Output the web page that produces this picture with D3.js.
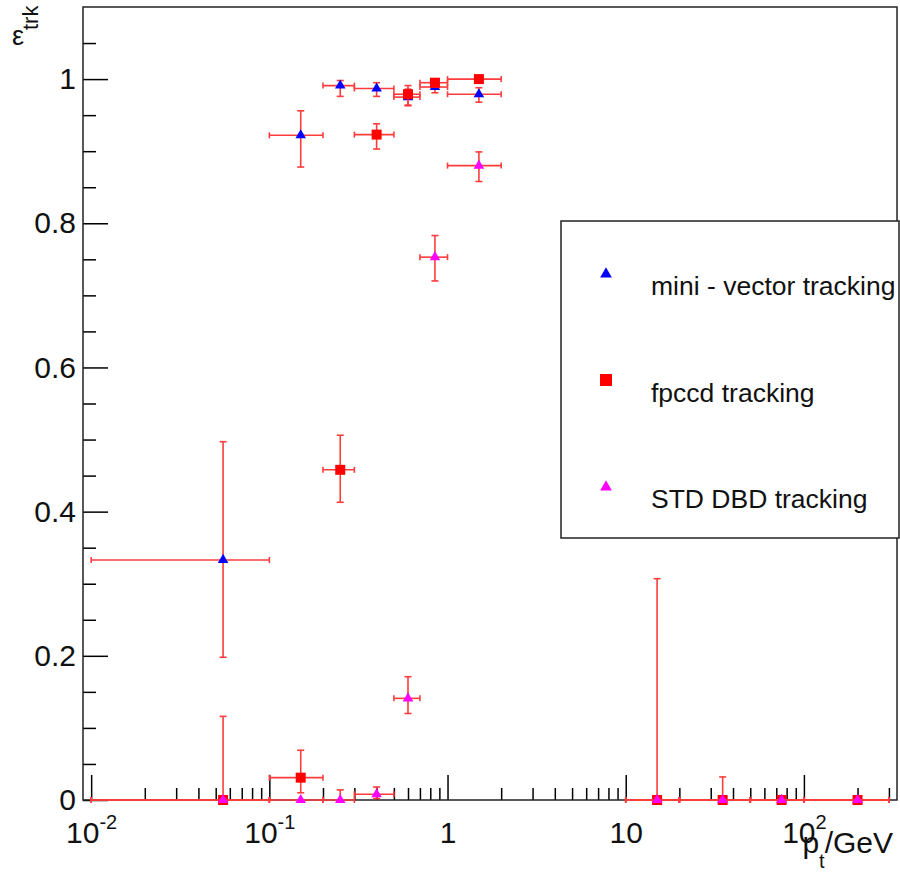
<!DOCTYPE html>
<html>
<head>
<meta charset="utf-8">
<script src="https://cdn.jsdelivr.net/npm/d3@7"></script>
<style>
  body { margin: 0; background: #fff; }
  svg { display: block; }
  text { font-family: "Liberation Sans", Arial, sans-serif; fill: #111; }
</style>
</head>
<body>
<svg id="chart" width="900" height="873"></svg>
<script>
// pt bins (GeV)
const binCenter = [0.055, 0.15, 0.25, 0.4, 0.6, 0.85, 1.5, 15, 35, 75, 200]
const binLow = [0.01, 0.1, 0.2, 0.3, 0.5, 0.7, 1, 10, 20, 50, 100]
const binHigh = [0.1, 0.2, 0.3, 0.5, 0.7, 1, 2, 20, 50, 100, 300]

// mini - vector tracking
const miniEff = [0.333, 0.922, 0.991, 0.987, 0.975, 0.989, 0.979, 0, 0, 0, 0]
const miniErrLow = [0.135, 0.044, 0.015, 0.011, 0.012, 0.008, 0.011, 0, 0, 0, 0]
const miniErrHigh = [0.164, 0.034, 0.007, 0.008, 0.011, 0.006, 0.009, 0, 0, 0, 0]

// fpccd tracking
const fpccdEff = [0, 0.031, 0.458, 0.923, 0.979, 0.995, 1.0, 0, 0, 0, 0]
const fpccdErrLow = [0, 0.021, 0.045, 0.02, 0.015, 0.006, 0.004, 0, 0, 0, 0]
const fpccdErrHigh = [0.116, 0.038, 0.048, 0.015, 0.012, 0.004, 0, 0.307, 0.032, 0, 0]

// STD DBD tracking
const stdEff = [0, 0, 0, 0.008, 0.141, 0.753, 0.88, 0, 0, 0, 0]
const stdErrLow = [0, 0, 0, 0.006, 0.021, 0.033, 0.022, 0, 0, 0, 0]
const stdErrHigh = [0, 0, 0.014, 0.01, 0.03, 0.03, 0.019, 0, 0, 0, 0]

const yMajor = [0, 0.2, 0.4, 0.6, 0.8, 1]
const xMajor = [0.01, 0.1, 1, 10, 100]
const xTickLabels = [['10', '-2'], ['10', '-1'], ['1', ''], ['10', ''], ['10', '2']]

const series = [
  { name: 'mini - vector tracking', color: '#0000ff', symbol: d3.symbolTriangle, size: 48,
    val: miniEff, lo: miniErrLow, hi: miniErrHigh },
  { name: 'fpccd tracking', color: '#ff0000', symbol: d3.symbolSquare, size: 100,
    val: fpccdEff, lo: fpccdErrLow, hi: fpccdErrHigh },
  { name: 'STD DBD tracking', color: '#ff00ff', symbol: d3.symbolTriangle, size: 48,
    val: stdEff, lo: stdErrLow, hi: stdErrHigh },
]

const errColor = '#ff3c3c'
const svg = d3.select('#chart')

let x = d3.scaleLog().domain([0.009, 333]).range([83, 897])
let y = d3.scaleLinear().domain([0, 1.1]).range([800, 7])

// y axis, ticks pointing into the frame
let yMinor = d3.range(0, 22).map(i => +(i * 0.05).toFixed(2)).filter(v => !yMajor.includes(v))
svg.append('g')
  .attr('transform', 'translate(83,0)')
  .call(d3.axisLeft(y).tickValues(yMinor).tickSize(-13).tickFormat(''))
svg.append('g')
  .classed('y-axis', true)
  .attr('transform', 'translate(83,0)')
  .call(d3.axisLeft(y).tickValues(yMajor).tickSize(-25).tickPadding(7)
    .tickFormat(d => String(+d.toFixed(1))))

// x axis (log)
let xMinor = []
for (let e = -2; e <= 2; e++) {
  for (let k = 2; k <= 9; k++) {
    let v = k * Math.pow(10, e)
    if (v < 333) xMinor.push(v)
  }
}
svg.append('g')
  .attr('transform', 'translate(0,800)')
  .call(d3.axisBottom(x).tickValues(xMinor).tickSize(-12).tickFormat(''))
let xAxis = svg.append('g')
  .classed('x-axis', true)
  .attr('transform', 'translate(0,800)')
  .call(d3.axisBottom(x).tickValues(xMajor).tickSize(-25).tickFormat(''))

xAxis.selectAll('.tick').each(function(d, i) {
  let t = d3.select(this).select('text')
    .attr('y', 43)
    .attr('dy', null)
    .style('font-size', '30px')
    .attr('text-anchor', 'middle')
  t.append('tspan').text(xTickLabels[i][0])
  if (xTickLabels[i][1]) {
    t.append('tspan').attr('dy', -14).style('font-size', '20px').text(xTickLabels[i][1])
  }
})

svg.selectAll('.domain').remove()
svg.selectAll('.tick line').attr('stroke', '#000').attr('stroke-width', 1.5)
svg.selectAll('.y-axis text').style('font-size', '30px').attr('fill', '#111')

// frame
svg.append('rect')
  .attr('x', 83).attr('y', 7)
  .attr('width', 897 - 83).attr('height', 800 - 7)
  .attr('fill', 'none')
  .attr('stroke', '#222')
  .attr('stroke-width', 1.5)

// data: error bars then markers, one graph after the other
series.forEach(s => {
  let g = svg.append('g').classed('graph', true)
  let pts = binCenter.map((c, i) => ({ c: c, lo: binLow[i], hi: binHigh[i], v: s.val[i], el: s.lo[i], eh: s.hi[i] }))

  let errs = g.append('g')
    .attr('stroke', errColor)
    .attr('stroke-width', 1.6)
    .attr('fill', 'none')
  pts.forEach(p => {
    let py = y(p.v)
    errs.append('line').attr('x1', x(p.lo)).attr('x2', x(p.hi)).attr('y1', py).attr('y2', py)
    errs.append('line').attr('x1', x(p.lo)).attr('x2', x(p.lo)).attr('y1', py - 3).attr('y2', py + 3)
    errs.append('line').attr('x1', x(p.hi)).attr('x2', x(p.hi)).attr('y1', py - 3).attr('y2', py + 3)
    if (p.el > 0 || p.eh > 0) {
      errs.append('line').attr('x1', x(p.c)).attr('x2', x(p.c))
        .attr('y1', y(p.v - p.el)).attr('y2', y(p.v + p.eh))
    }
    if (p.el > 0) {
      errs.append('line').attr('x1', x(p.c) - 3.5).attr('x2', x(p.c) + 3.5)
        .attr('y1', y(p.v - p.el)).attr('y2', y(p.v - p.el))
    }
    if (p.eh > 0) {
      errs.append('line').attr('x1', x(p.c) - 3.5).attr('x2', x(p.c) + 3.5)
        .attr('y1', y(p.v + p.eh)).attr('y2', y(p.v + p.eh))
    }
  })

  g.selectAll('path.marker')
    .data(pts)
    .enter()
    .append('path')
    .classed('marker', true)
    .attr('d', d3.symbol().type(s.symbol).size(s.size))
    .attr('transform', p => 'translate(' + x(p.c) + ',' + y(p.v) + ')')
    .attr('fill', s.color)
})

// legend
let legend = svg.append('g').classed('legend', true)
legend.append('rect')
  .attr('x', 561).attr('y', 221)
  .attr('width', 338).attr('height', 317)
  .attr('fill', '#fff')
  .attr('stroke', '#222')
  .attr('stroke-width', 1.5)
let legendMarkerY = [274, 380, 487]
let legendTextY = [295, 402, 508]
series.forEach((s, i) => {
  legend.append('path')
    .attr('d', d3.symbol().type(s.symbol).size(s.symbol === d3.symbolSquare ? 144 : 60))
    .attr('transform', 'translate(606,' + legendMarkerY[i] + ')')
    .attr('fill', s.color)
  legend.append('text')
    .attr('x', 651)
    .attr('y', legendTextY[i])
    .style('font-size', '26.5px')
    .text(s.name)
})

// axis titles
svg.append('text')
  .attr('x', 12).attr('y', 45)
  .style('font-size', '27px')
  .text('ε')
svg.append('text')
  .attr('transform', 'translate(38,30) rotate(-90)')
  .style('font-size', '22px')
  .text('trk')

let xTitle = svg.append('text')
  .attr('x', 893).attr('y', 853)
  .attr('text-anchor', 'end')
  .style('font-size', '30px')
xTitle.append('tspan').text('p')
xTitle.append('tspan').attr('dy', 15).style('font-size', '20px').text('t')
xTitle.append('tspan').attr('dy', -15).text('/GeV')
</script>
</body>
</html>
